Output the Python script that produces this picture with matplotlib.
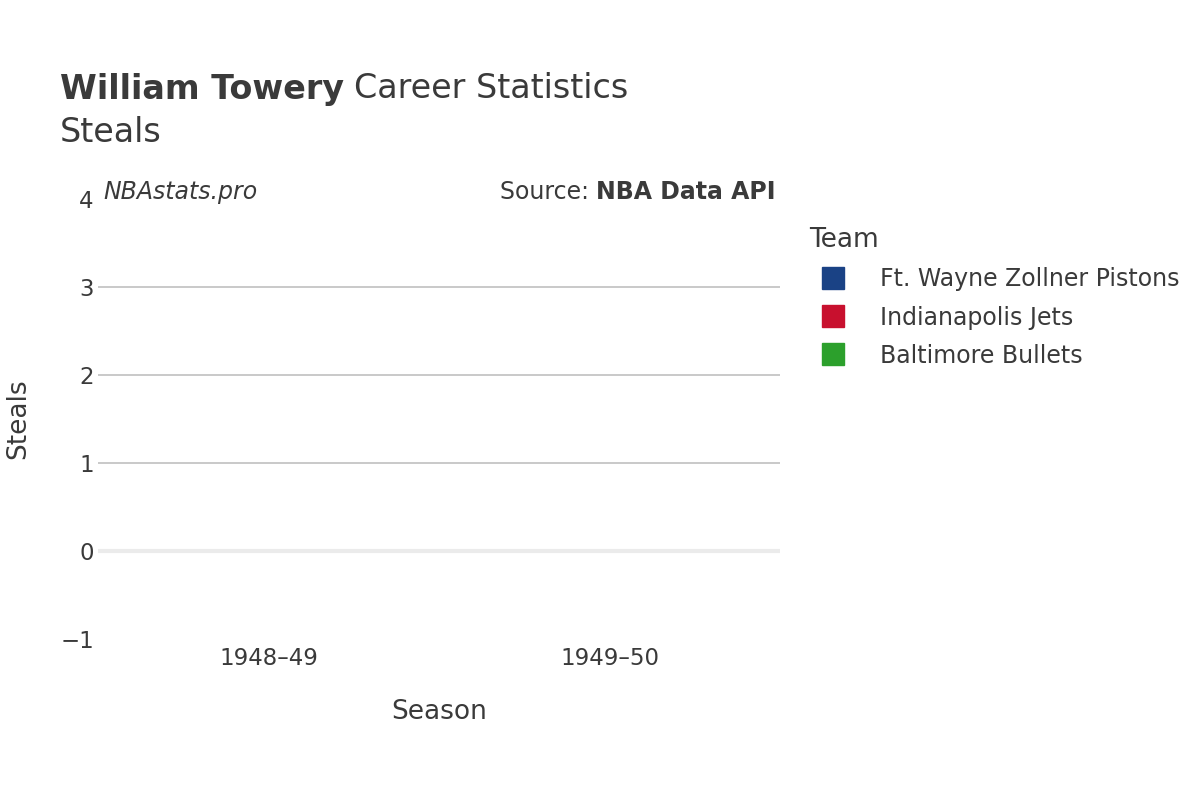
import matplotlib
matplotlib.use("Agg")
import matplotlib.pyplot as plt
from matplotlib.lines import Line2D

seasons = ["1948\u201349", "1949\u201350"]
teams = ["Ft. Wayne Zollner Pistons", "Indianapolis Jets", "Baltimore Bullets"]
team_colors = ["#1a4285", "#c8102e", "#2ca02c"]
# steals were not recorded in these seasons: every bar is zero height
steals = {
    "Ft. Wayne Zollner Pistons": [0, 0],
    "Indianapolis Jets": [0, 0],
    "Baltimore Bullets": [0, 0],
}
y_ticks = [-1, 0, 1, 2, 3, 4]

text_color = "#3a3a3a"
plt.rcParams["font.family"] = "DejaVu Sans"

fig = plt.figure(figsize=(12, 8), dpi=100)
ax = fig.add_axes([98 / 1200, 1 - 639 / 800, 682 / 1200, 440 / 800])

width = 0.8 / len(teams)
for i, team in enumerate(teams):
    xs = [j - 0.4 + width * (i + 0.5) for j in range(len(seasons))]
    ax.bar(xs, steals[team], width=width, color=team_colors[i])

ax.set_xlim(-0.5, len(seasons) - 0.5)
ax.set_ylim(-1, 4)
ax.set_yticks(y_ticks)
ax.set_yticklabels(["\u22121" if t < 0 else str(t) for t in y_ticks])
ax.set_xticks(range(len(seasons)))
ax.set_xticklabels(seasons)
for t in [1, 2, 3]:
    ax.axhline(t, color="#c0c0c0", linewidth=1.2, zorder=0)
ax.axhline(0, color="#ebebeb", linewidth=3, zorder=0)
for s in ax.spines.values():
    s.set_visible(False)
ax.tick_params(length=0, labelsize=16.5, colors=text_color, pad=3)
ax.tick_params(axis="x", pad=6)

fig.text(439 / 1200, 1 - 712 / 800, "Season", fontsize=19, color=text_color,
         ha="center", va="center")
fig.text(18 / 1200, 1 - 419 / 800, "Steals", fontsize=19, color=text_color,
         ha="center", va="center", rotation=90)

title = fig.text(60 / 1200, 1 - 89 / 800, "William Towery", fontsize=24,
                 fontweight="bold", color=text_color, va="center")
fig.canvas.draw()
tb = title.get_window_extent()
fig.text(tb.x1 / 1200 + 10 / 1200, 1 - 89 / 800, "Career Statistics", fontsize=24,
         color=text_color, va="center")
fig.text(60 / 1200, 1 - 133 / 800, "Steals", fontsize=24, color=text_color, va="center")

fig.text(103 / 1200, 1 - 192 / 800, "NBAstats.pro", fontsize=17,
         style="italic", color=text_color, va="center")
src = fig.text(776 / 1200, 1 - 192 / 800, "NBA Data API", fontsize=17,
               fontweight="bold", color=text_color, va="center", ha="right")
fig.canvas.draw()
bb = src.get_window_extent()
fig.text(bb.x0 / 1200, 1 - 192 / 800, "Source: ", fontsize=17, color=text_color,
         va="center", ha="right")

handles = [Line2D([0], [0], marker="s", linestyle="", markersize=16,
                  markerfacecolor=c, markeredgecolor=c) for c in team_colors]
leg = fig.legend(handles, teams, loc="upper left", bbox_to_anchor=(788 / 1200, 1 - 206 / 800),
                 frameon=False, fontsize=17, title="Team", title_fontsize=19,
                 labelcolor=text_color, handletextpad=1.0, labelspacing=0.6)
leg._legend_box.align = "left"
leg.get_title().set_color(text_color)

fig.savefig("out.png", dpi=100)
